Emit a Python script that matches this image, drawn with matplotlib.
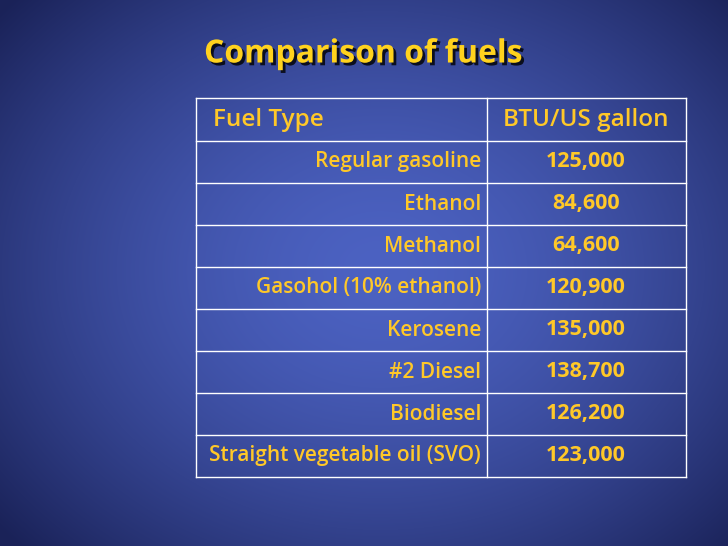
import numpy as np
import matplotlib
matplotlib.use("Agg")
import matplotlib.pyplot as plt
import matplotlib.patheffects as pe

title = "Comparison of fuels"
headers = ["Fuel Type", "BTU/US gallon"]
fuels = ["Regular gasoline", "Ethanol", "Methanol", "Gasohol (10% ethanol)",
         "Kerosene", "#2 Diesel", "Biodiesel", "Straight vegetable oil (SVO)"]
btu = [125000, 84600, 64600, 120900, 135000, 138700, 126200, 123000]

fig = plt.figure(figsize=(7.28, 5.46), dpi=100)
ax = fig.add_axes([0, 0, 1, 1])
ax.set_xlim(0, 728); ax.set_ylim(546, 0); ax.axis("off")

yy, xx = np.mgrid[0:546, 0:728]
r = np.sqrt(((xx - 380) / 500) ** 2 + ((yy - 270) / 400) ** 2)
r = np.clip(r, 0, 1)
c0 = np.array([0x4c, 0x62, 0xc2]) / 255
c1 = np.array([0x1a, 0x22, 0x58]) / 255
w = r[..., None] ** 1.6
img = c0[None, None, :] * (1 - w) + c1[None, None, :] * w
ax.imshow(img, extent=(0, 728, 546, 0), aspect="auto", zorder=0)

gold = "#FFC828"
font = "Open Sans"
ax.text(204, 54, title, color="#FFD21E", fontsize=23, fontweight="bold", family=font,
        va="center", ha="left",
        path_effects=[pe.withSimplePatchShadow(offset=(2, -2), shadow_rgbFace="black", alpha=0.8)])

x0, xm, x1 = 196, 487, 686
y0, yh = 98, 141
rh = (477 - 141) / len(fuels)
ys = [y0, yh] + [yh + rh * (i + 1) for i in range(len(fuels))]
for y in ys:
    ax.plot([x0, x1], [y, y], color="white", lw=1, zorder=2)
for x in (x0, x1, xm):
    ax.plot([x, x], [y0, ys[-1]], color="white", lw=1, zorder=2)

ax.text(213, (y0 + yh) / 2, headers[0], color=gold, fontsize=17.5, fontweight="semibold", family=font, va="center", ha="left")
ax.text(586, (y0 + yh) / 2, headers[1], color=gold, fontsize=17.5, fontweight="semibold", family=font, va="center", ha="center")
for i, (f, b) in enumerate(zip(fuels, btu)):
    yc = yh + rh * (i + 0.5)
    ax.text(481, yc, f, color=gold, fontsize=15, fontweight="semibold", family=font, va="center", ha="right")
    ax.text(586, yc, f"{b:,}", color=gold, fontsize=15.5, fontweight="bold", family=font, va="center", ha="center")

fig.savefig("out.png", dpi=100)
